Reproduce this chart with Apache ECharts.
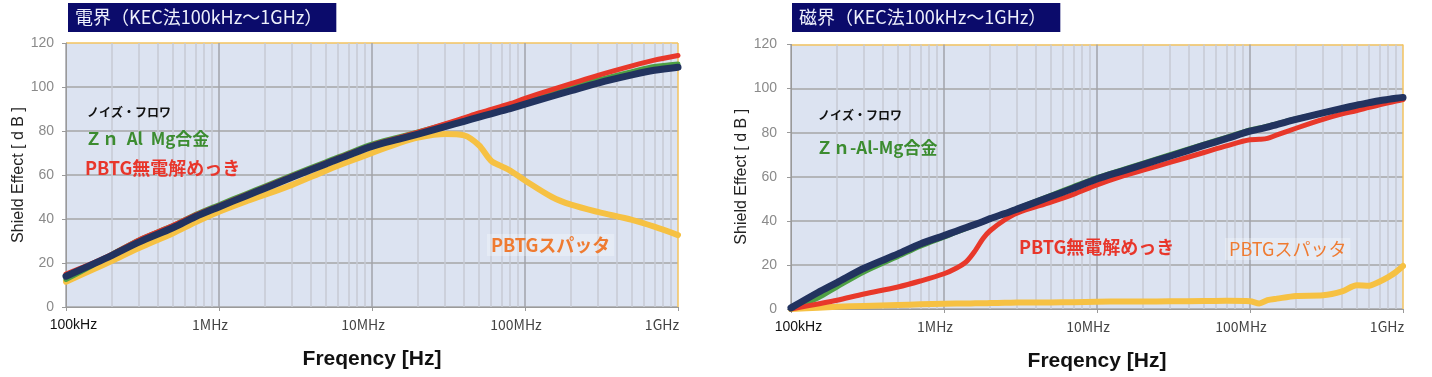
<!DOCTYPE html>
<html>
<head>
<meta charset="utf-8">
<script src="https://cdn.jsdelivr.net/npm/echarts@6/dist/echarts.min.js"></script>
<style>
html,body{margin:0;padding:0;background:#fff;}
#c{width:1432px;height:377px;}
</style>
</head>
<body>
<div id="c"></div>
<script>
// ---------- data ----------
const titleE = '電界（KEC法100kHz～1GHz）';
const titleH = '磁界（KEC法100kHz～1GHz）';
const xTickLabels = ['100kHz', '1MHz', '10MHz', '100MHz', '1GHz'];
const yTicks = [0, 20, 40, 60, 80, 100, 120];
const seriesNames = ['ノイズ・フロワ', 'Zn-Al-Mg合金', 'PBTG無電解めっき', 'PBTGスパッタ'];

// electric field (left)
const freqE = [1e5,1.5e5,2e5,3e5,5e5,7e5,1e6,1.5e6,2e6,3e6,5e6,7e6,1e7,1.5e7,2e7,3e7,4e7,5e7,6e7,7e7,8e7,1e8,1.5e8,2e8,3e8,5e8,7e8,1e9];
const noiseE  = [14,19.5,23.5,29.5,36,41,45.5,50.5,54,59,65,69,73,76.3,78.6,82,84.4,86.3,87.8,89.1,90.2,92.2,95.8,98.3,101.8,105.5,107.6,109];
const znE     = [12.5,19,24,30.5,37,42,46.5,51.5,55,60,66,70,74,77.3,79.6,83,85.4,87.3,88.8,90.1,91.2,93.3,97,99.6,103.2,107,109.3,110.5];
const platE   = [15,20,24,30.5,37,41.8,46,51,54.5,59.5,65.5,69.5,73.5,77,79.5,83.2,86,88.2,89.8,91.2,92.4,94.8,98.8,101.5,105.3,109.6,112.2,114.3];
const sputE   = [11.5,17,21,26.8,33.5,38.5,43.3,48,51,55.5,62,66,70,74.5,77,78.6,78,73.5,66.5,64,62,57.5,50,46.5,43.2,39.6,36.5,32.7];

// magnetic field (right)
const freqH = [1e5,1.5e5,2e5,3e5,5e5,7e5,1e6,1.2e6,1.4e6,1.6e6,1.8e6,2e6,2.5e6,3e6,5e6,7e6,1e7,1.5e7,2e7,3e7,5e7,7e7,1e8,1.15e8,1.3e8,1.5e8,2e8,3e8,4e8,5e8,6e8,7e8,8e8,9e8,1e9];
const noiseH = [0.5,7.5,12,18.5,25,29.5,33.3,35.3,37,38.4,39.7,41,43.3,45.3,51,54.8,59,62.8,65.5,69.3,74.2,77.3,80.7,81.6,82.5,83.7,86,89,91,92.5,93.6,94.5,95.1,95.6,96];
const znH    = [0,5,10,16.8,23.8,28.5,32.6,34.8,36.6,38.1,39.5,40.9,43.4,45.6,51.6,55.5,59.6,63.5,66.2,70,74.8,77.9,81.2,82.1,83,84.1,86.3,89.1,90.9,92.2,93.2,93.9,94.4,94.8,95.2];
const platH  = [0,2.3,4,6.8,10,12.7,16,18.5,21.5,26.5,32,35.5,40.5,43.5,48.5,52,56.3,60.5,63,66.5,71,74,76.8,77,77.4,79,82,86,88.5,90,91.5,92.6,93.5,94.3,95];
const sputH  = [0,0.6,1,1.4,1.8,2.1,2.4,2.5,2.5,2.6,2.6,2.7,2.8,2.9,3,3.1,3.3,3.4,3.4,3.5,3.6,3.7,3.5,2.5,4,4.7,5.9,6.2,8,10.8,10.6,12.4,14.5,16.8,19.5];

// ---------- build ----------
const C = {navy:'#22335f', red:'#e8382a', green:'#4ea044', yellow:'#f6c143'};
const pairs = (xs, ys) => xs.map((x, i) => [x, ys[i]]);

function xAxis(g) {
  return {
    type: 'log', logBase: 10, min: 1e5, max: 1e9, gridIndex: g,
    axisLine: {show: true, lineStyle: {color: '#9a9a9a', width: 1}},
    axisTick: {show: true, length: 4, lineStyle: {color: '#9a9a9a'}},
    axisLabel: {
      show: true, showMinLabel: true, showMaxLabel: true, margin: 11,
      formatter: function (v) {
        const i = Math.round(Math.log10(v)) - 5;
        if (i === 0) return '{f|' + xTickLabels[0] + '}';
        if (i === xTickLabels.length - 1) return '{l|' + xTickLabels[i] + '}';
        return '{n|' + xTickLabels[i] + '}';
      },
      rich: {
        f: {fontSize: 14, color: '#111', fontFamily: 'Liberation Sans', padding: [0, 0, 0, 15]},
        n: {fontSize: 14, color: '#444', fontFamily: 'Noto Sans CJK JP', padding: [0, 18, 0, 0]},
        l: {fontSize: 14, color: '#444', fontFamily: 'Noto Sans CJK JP', padding: [0, 32, 0, 0]}
      }
    },
    splitLine: {show: true, lineStyle: {color: ['#a2a3aa', '#a2a3aa', '#a2a3aa', '#a2a3aa', '#f3c35f'], width: 1.5}},
    minorTick: {show: false, splitNumber: 9},
    minorSplitLine: {show: true, lineStyle: {color: '#c6cad4', width: 1.5}},
    name: 'Freqency [Hz]', nameLocation: 'middle', nameGap: 42,
    nameTextStyle: {fontSize: 21, fontWeight: 'bold', color: '#111', fontFamily: 'Liberation Sans'}
  };
}
function yAxis(g, margin) {
  return {
    type: 'value', min: yTicks[0], max: yTicks[yTicks.length - 1], interval: 20, gridIndex: g,
    axisLine: {show: true, lineStyle: {color: '#9a9a9a', width: 1}},
    axisTick: {show: true, length: 4, lineStyle: {color: '#9a9a9a'}},
    axisLabel: {color: '#8a8a8a', fontSize: 14, margin: margin, fontFamily: 'Liberation Sans'},
    splitLine: {show: true, lineStyle: {color: ['#a6a6a6','#a6a6a6','#a6a6a6','#a6a6a6','#a6a6a6','#a6a6a6','#f3c35f'], width: 1.5}},
    name: 'Shield Effect [ d B ]', nameLocation: 'middle', nameGap: 38,
    nameTextStyle: {fontSize: 16, color: '#222', fontFamily: 'Liberation Sans'}
  };
}
function line(name, xs, ys, color, width, g, z) {
  return {
    name: name, type: 'line', data: pairs(xs, ys), xAxisIndex: g, yAxisIndex: g,
    symbol: 'none', smooth: 0.3, z: z, silent: true,
    lineStyle: {color: color, width: width, cap: 'round', join: 'round'}
  };
}
function titleBox(text, left) {
  return {
    text: text, left: left, top: 3, backgroundColor: '#0b0b6b', padding: [4, 14, 5, 7],
    textStyle: {color: '#eef0fb', fontSize: 18, fontWeight: 'normal', fontFamily: 'Noto Sans CJK JP', lineHeight: 20}
  };
}
function label(text, x, y, color, size, weight, bg) {
  const s = {text: text, fill: color, font: weight + ' ' + size + 'px "Noto Sans CJK JP"'};
  if (bg) { s.backgroundColor = 'rgba(255,255,255,0.28)'; s.padding = [2, 4, 2, 4]; }
  return {type: 'text', x: x, y: y, z: 100, style: s};
}

const option = {
  animation: false,
  backgroundColor: '#ffffff',
  title: [titleBox(titleE, 68), titleBox(titleH, 792)],
  grid: [
    {left: 66, top: 43, width: 612, height: 264, show: true, backgroundColor: '#dce3f1', borderWidth: 0},
    {left: 791, top: 44.5, width: 612, height: 266, show: true, backgroundColor: '#dce3f1', borderWidth: 0}
  ],
  xAxis: [xAxis(0), xAxis(1)],
  yAxis: [yAxis(0, 12), yAxis(1, 14)],
  series: [
    line(seriesNames[3], freqE, sputE, C.yellow, 6, 0, 2),
    line(seriesNames[1], freqE, znE, C.green, 5, 0, 3),
    line(seriesNames[2], freqE, platE, C.red, 5, 0, 4),
    line(seriesNames[0], freqE, noiseE, C.navy, 7, 0, 5),
    line(seriesNames[3], freqH, sputH, C.yellow, 6, 1, 2),
    line(seriesNames[1], freqH, znH, C.green, 5, 1, 3),
    line(seriesNames[2], freqH, platH, C.red, 5, 1, 4),
    line(seriesNames[0], freqH, noiseH, C.navy, 7, 1, 5)
  ],
  graphic: [
    label('ノイズ・フロワ', 87, 106, '#111', 12, 'bold'),
    label('Ｚｎ  Al  Mg合金', 85, 130, '#3c8c30', 17, 'bold'),
    label('PBTG無電解めっき', 85, 159, '#e8362b', 18, 'bold'),
    label('PBTGスパッタ', 487, 234, '#ef7b31', 18, 'bold', true),
    label('ノイズ・フロワ', 818, 109, '#111', 12, 'bold'),
    label('Ｚｎ-Al-Mg合金', 816, 139, '#3c8c30', 17, 'bold'),
    label('PBTG無電解めっき', 1019, 238, '#e8362b', 18, 'bold'),
    label('PBTGスパッタ', 1225, 238, '#ef7b31', 18, 'normal', true)
  ]
};

const chart = echarts.init(document.getElementById('c'), null, {renderer: 'canvas'});
chart.setOption(option);
</script>
</body>
</html>
